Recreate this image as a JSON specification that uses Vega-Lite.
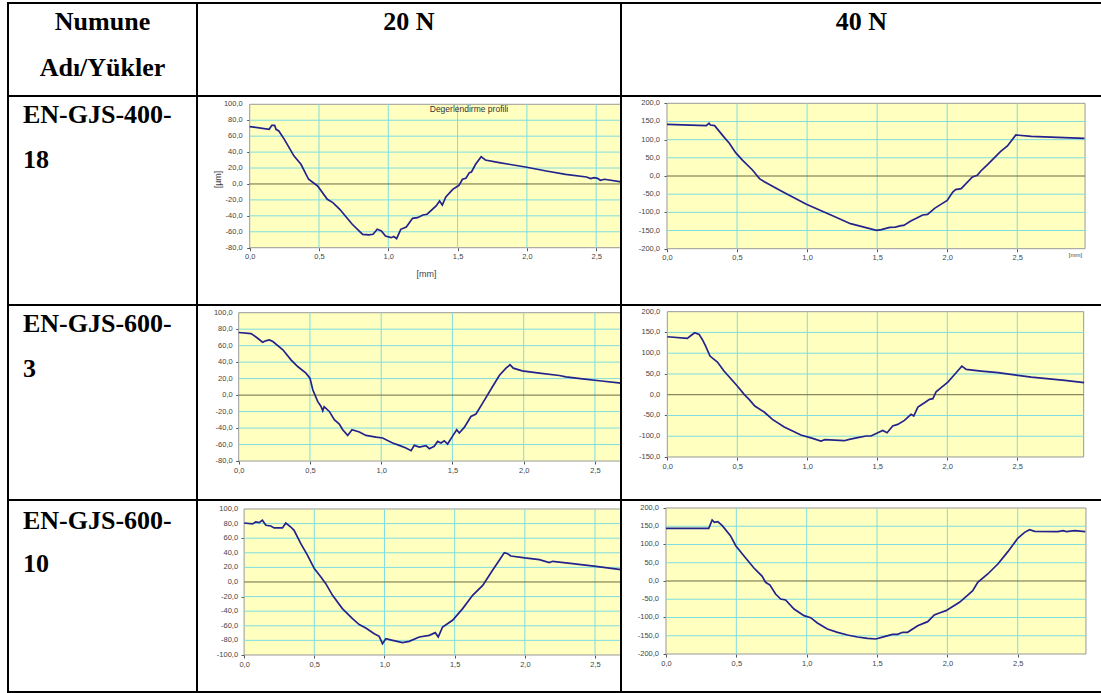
{
  "$schema": "https://vega.github.io/schema/vega-lite/v6.json",
  "padding": {"left": 7, "top": 2, "right": 0, "bottom": 0},
  "background": "white",
  "columns": 3,
  "spacing": 0,
  "bounds": "flush",
  "resolve": {"scale": {"x": "independent", "y": "independent"}, "axis": {"x": "independent", "y": "independent"}},
  "datasets": {
    "xg": [{"v":0.5},{"v":1},{"v":1.5},{"v":2},{"v":2.5}],
    "ygA": [{"v":-60},{"v":-40},{"v":-20},{"v":20},{"v":40},{"v":60},{"v":80}],
    "ygB": [{"v":-150},{"v":-100},{"v":-50},{"v":50},{"v":100},{"v":150}],
    "ygC": [{"v":-100},{"v":-50},{"v":50},{"v":100},{"v":150}],
    "ygD": [{"v":-80},{"v":-60},{"v":-40},{"v":-20},{"v":20},{"v":40},{"v":60},{"v":80}],
    "ylA": [{"v":-80},{"v":-60},{"v":-40},{"v":-20},{"v":0},{"v":20},{"v":40},{"v":60},{"v":80},{"v":100}],
    "ylB": [{"v":-200},{"v":-150},{"v":-100},{"v":-50},{"v":0},{"v":50},{"v":100},{"v":150},{"v":200}],
    "ylC": [{"v":-150},{"v":-100},{"v":-50},{"v":0},{"v":50},{"v":100},{"v":150},{"v":200}],
    "ylD": [{"v":-100},{"v":-80},{"v":-60},{"v":-40},{"v":-20},{"v":0},{"v":20},{"v":40},{"v":60},{"v":80},{"v":100}],
    "c1": [{"x":0,"y":72},{"x":0.14,"y":68.6},{"x":0.16,"y":73.6},{"x":0.18,"y":73.6},{"x":0.19,"y":68.6},{"x":0.21,"y":66.5},{"x":0.25,"y":56},{"x":0.32,"y":35},{"x":0.37,"y":24.7},{"x":0.425,"y":5.9},{"x":0.49,"y":-2.5},{"x":0.56,"y":-19.2},{"x":0.6,"y":-23.4},{"x":0.65,"y":-31.8},{"x":0.69,"y":-40.2},{"x":0.74,"y":-50.6},{"x":0.815,"y":-63.2},{"x":0.86,"y":-64},{"x":0.89,"y":-63.2},{"x":0.92,"y":-56.9},{"x":0.95,"y":-59},{"x":0.98,"y":-65.3},{"x":1.02,"y":-67.4},{"x":1.04,"y":-66},{"x":1.06,"y":-68.6},{"x":1.09,"y":-56.9},{"x":1.13,"y":-54},{"x":1.175,"y":-43.1},{"x":1.21,"y":-42.3},{"x":1.25,"y":-38.9},{"x":1.28,"y":-38},{"x":1.345,"y":-27.6},{"x":1.37,"y":-21.3},{"x":1.39,"y":-26.4},{"x":1.415,"y":-16.3},{"x":1.465,"y":-6.7},{"x":1.51,"y":-1.7},{"x":1.535,"y":5.9},{"x":1.56,"y":7.1},{"x":1.585,"y":14.2},{"x":1.6,"y":15.1},{"x":1.63,"y":24.7},{"x":1.67,"y":34.3},{"x":1.7,"y":30.1},{"x":1.8,"y":26.8},{"x":1.87,"y":24.7},{"x":1.99,"y":21.3},{"x":2.14,"y":16.3},{"x":2.28,"y":12.1},{"x":2.43,"y":8.8},{"x":2.46,"y":6.7},{"x":2.485,"y":7.9},{"x":2.51,"y":7.1},{"x":2.53,"y":4.6},{"x":2.56,"y":5.9},{"x":2.68,"y":2.5}],
    "c2": [{"x":0,"y":142},{"x":0.28,"y":138.5},{"x":0.3,"y":145},{"x":0.31,"y":140.4},{"x":0.34,"y":138.5},{"x":0.41,"y":105.5},{"x":0.445,"y":90},{"x":0.49,"y":64.2},{"x":0.54,"y":43.1},{"x":0.61,"y":16.5},{"x":0.66,"y":-7.3},{"x":0.695,"y":-15.6},{"x":0.815,"y":-41.3},{"x":0.995,"y":-78},{"x":1.17,"y":-107.3},{"x":1.31,"y":-131.2},{"x":1.495,"y":-149.5},{"x":1.53,"y":-147.7},{"x":1.59,"y":-141.3},{"x":1.63,"y":-140.4},{"x":1.67,"y":-136.7},{"x":1.69,"y":-135.8},{"x":1.74,"y":-123.9},{"x":1.78,"y":-116.5},{"x":1.825,"y":-107.3},{"x":1.86,"y":-105.5},{"x":1.91,"y":-89},{"x":1.955,"y":-78},{"x":2.0,"y":-67},{"x":2.04,"y":-44},{"x":2.06,"y":-37.6},{"x":2.1,"y":-34.9},{"x":2.18,"y":-2.8},{"x":2.215,"y":1.8},{"x":2.24,"y":13.8},{"x":2.29,"y":32.1},{"x":2.38,"y":67},{"x":2.43,"y":82.6},{"x":2.49,"y":112.8},{"x":2.6,"y":109.2},{"x":2.835,"y":105.5},{"x":2.98,"y":103.7}],
    "c3": [{"x":0,"y":76},{"x":0.087,"y":74.7},{"x":0.133,"y":69},{"x":0.168,"y":64.2},{"x":0.19,"y":65.9},{"x":0.215,"y":67},{"x":0.24,"y":65},{"x":0.31,"y":55},{"x":0.367,"y":42.8},{"x":0.414,"y":34.7},{"x":0.472,"y":26.7},{"x":0.5,"y":20.6},{"x":0.52,"y":6.5},{"x":0.554,"y":-7.7},{"x":0.578,"y":-13.7},{"x":0.59,"y":-19},{"x":0.6,"y":-14.1},{"x":0.636,"y":-19.8},{"x":0.671,"y":-29.9},{"x":0.706,"y":-35.2},{"x":0.73,"y":-42},{"x":0.765,"y":-48.9},{"x":0.795,"y":-42},{"x":0.847,"y":-44.8},{"x":0.893,"y":-48.9},{"x":0.964,"y":-50.9},{"x":1.01,"y":-52},{"x":1.08,"y":-58.2},{"x":1.127,"y":-61},{"x":1.174,"y":-64.2},{"x":1.21,"y":-67.5},{"x":1.232,"y":-61},{"x":1.268,"y":-63},{"x":1.314,"y":-61.4},{"x":1.338,"y":-65},{"x":1.372,"y":-62.2},{"x":1.396,"y":-56.2},{"x":1.42,"y":-58.2},{"x":1.443,"y":-55.4},{"x":1.466,"y":-59.4},{"x":1.5,"y":-50.1},{"x":1.53,"y":-42},{"x":1.548,"y":-46},{"x":1.583,"y":-39.2},{"x":1.63,"y":-25.9},{"x":1.665,"y":-23},{"x":1.712,"y":-9.7},{"x":1.782,"y":10.5},{"x":1.829,"y":23.8},{"x":1.876,"y":32.7},{"x":1.904,"y":36.8},{"x":1.927,"y":32.7},{"x":1.99,"y":29.5},{"x":2.11,"y":26.7},{"x":2.25,"y":23.8},{"x":2.296,"y":22.2},{"x":2.413,"y":19.8},{"x":2.53,"y":17.4},{"x":2.683,"y":14.5}],
    "c4": [{"x":0,"y":139.6},{"x":0.143,"y":135.6},{"x":0.167,"y":142},{"x":0.196,"y":149.3},{"x":0.227,"y":145.3},{"x":0.25,"y":133.2},{"x":0.274,"y":117.2},{"x":0.305,"y":93.1},{"x":0.358,"y":78.7},{"x":0.405,"y":57},{"x":0.5,"y":20.9},{"x":0.549,"y":0.8},{"x":0.584,"y":-11.2},{"x":0.625,"y":-27.3},{"x":0.692,"y":-41.7},{"x":0.751,"y":-59.4},{"x":0.835,"y":-77.8},{"x":0.906,"y":-89.1},{"x":0.954,"y":-97.1},{"x":1.038,"y":-105.1},{"x":1.097,"y":-111.6},{"x":1.126,"y":-108.3},{"x":1.264,"y":-110.8},{"x":1.3,"y":-107.5},{"x":1.36,"y":-103.5},{"x":1.42,"y":-99.5},{"x":1.455,"y":-99.5},{"x":1.515,"y":-89.9},{"x":1.539,"y":-85.9},{"x":1.57,"y":-91.5},{"x":1.61,"y":-75.4},{"x":1.646,"y":-71.4},{"x":1.694,"y":-61.8},{"x":1.741,"y":-47.4},{"x":1.76,"y":-51.4},{"x":1.79,"y":-29.7},{"x":1.837,"y":-19.3},{"x":1.873,"y":-11.2},{"x":1.897,"y":-9.6},{"x":1.92,"y":7.2},{"x":1.956,"y":16.9},{"x":2.004,"y":30.5},{"x":2.063,"y":53},{"x":2.104,"y":69},{"x":2.135,"y":61},{"x":2.242,"y":57},{"x":2.362,"y":53},{"x":2.6,"y":42.5},{"x":2.839,"y":34.5},{"x":2.977,"y":28.9}],
    "c5": [{"x":0,"y":80.8},{"x":0.06,"y":79.5},{"x":0.083,"y":82.2},{"x":0.107,"y":81.3},{"x":0.13,"y":84.5},{"x":0.155,"y":77.6},{"x":0.19,"y":76.7},{"x":0.214,"y":74},{"x":0.273,"y":74},{"x":0.297,"y":80.8},{"x":0.333,"y":75.3},{"x":0.356,"y":70.8},{"x":0.404,"y":52.5},{"x":0.452,"y":36.5},{"x":0.5,"y":18.3},{"x":0.547,"y":6.8},{"x":0.582,"y":-2.3},{"x":0.63,"y":-18.3},{"x":0.7,"y":-36.5},{"x":0.772,"y":-50.2},{"x":0.82,"y":-58.4},{"x":0.867,"y":-63},{"x":0.927,"y":-70.8},{"x":0.962,"y":-74.4},{"x":0.986,"y":-84.5},{"x":1.01,"y":-77.6},{"x":1.058,"y":-79.9},{"x":1.129,"y":-83.1},{"x":1.176,"y":-81.3},{"x":1.248,"y":-75.3},{"x":1.319,"y":-73.1},{"x":1.362,"y":-69.4},{"x":1.383,"y":-75.3},{"x":1.414,"y":-61.6},{"x":1.485,"y":-52.5},{"x":1.557,"y":-36.5},{"x":1.628,"y":-18.3},{"x":1.7,"y":-4.6},{"x":1.77,"y":16},{"x":1.818,"y":29.7},{"x":1.854,"y":40.2},{"x":1.877,"y":38.8},{"x":1.9,"y":35.6},{"x":2.0,"y":32.9},{"x":2.103,"y":30.6},{"x":2.174,"y":26.5},{"x":2.198,"y":28.3},{"x":2.34,"y":25.1},{"x":2.507,"y":21.5},{"x":2.685,"y":16.9}],
    "c6": [{"x":0,"y":144.3},{"x":0.304,"y":144.3},{"x":0.328,"y":167.1},{"x":0.344,"y":160.7},{"x":0.368,"y":162.6},{"x":0.4,"y":151.6},{"x":0.458,"y":124.2},{"x":0.496,"y":96.8},{"x":0.553,"y":69.4},{"x":0.625,"y":35.6},{"x":0.684,"y":12.8},{"x":0.708,"y":-3.7},{"x":0.739,"y":-11},{"x":0.779,"y":-35.6},{"x":0.815,"y":-49.3},{"x":0.85,"y":-52.1},{"x":0.91,"y":-76.7},{"x":0.981,"y":-95},{"x":1.028,"y":-100.5},{"x":1.076,"y":-115.1},{"x":1.147,"y":-131.5},{"x":1.219,"y":-140.6},{"x":1.29,"y":-147.9},{"x":1.361,"y":-153.4},{"x":1.432,"y":-157.1},{"x":1.492,"y":-158.9},{"x":1.551,"y":-152.5},{"x":1.61,"y":-146.1},{"x":1.646,"y":-146.1},{"x":1.682,"y":-140.6},{"x":1.717,"y":-140.6},{"x":1.789,"y":-122.4},{"x":1.86,"y":-111.4},{"x":1.907,"y":-93.2},{"x":1.943,"y":-87.7},{"x":1.99,"y":-81.3},{"x":2.086,"y":-58.4},{"x":2.145,"y":-38.4},{"x":2.18,"y":-26.5},{"x":2.216,"y":-3.7},{"x":2.287,"y":19.2},{"x":2.359,"y":46.6},{"x":2.43,"y":80.4},{"x":2.5,"y":116.9},{"x":2.549,"y":133.3},{"x":2.584,"y":140.6},{"x":2.62,"y":136.1},{"x":2.786,"y":135.2},{"x":2.822,"y":137.9},{"x":2.846,"y":135.2},{"x":2.905,"y":137.9},{"x":2.98,"y":135.2}]
  },
  "concat": [
    {"width": 189, "height": 93, "data": {"values": [{"ln":"1","t":"Numune"},{"ln":"2","t":"Adı/Yükler"}]},
     "mark": {"type":"text","font":"Liberation Serif","fontWeight":"bold","fontSize":26,"baseline":"alphabetic","align":"center","color":"#000"},
     "encoding": {"text":{"field":"t"},"y":{"field":"ln","type":"ordinal","scale":{"type":"point","domain":["1","2"],"range":[27,73],"padding":0},"axis":null},"x":{"datum":"c","type":"nominal","scale":{"type":"point","padding":0.5},"axis":null}}},
    {"width": 424, "height": 93, "data": {"values": [{"ln":"1","t":"20 N"}]},
     "mark": {"type":"text","font":"Liberation Serif","fontWeight":"bold","fontSize":26,"baseline":"alphabetic","align":"center","color":"#000"},
     "encoding": {"text":{"field":"t"},"y":{"field":"ln","type":"ordinal","scale":{"type":"point","domain":["1","2"],"range":[27,73],"padding":0},"axis":null},"x":{"datum":"c","type":"nominal","scale":{"type":"point","padding":0.5},"axis":null}}},
    {"width": 481, "height": 93, "data": {"values": [{"ln":"1","t":"40 N"}]},
     "mark": {"type":"text","font":"Liberation Serif","fontWeight":"bold","fontSize":26,"baseline":"alphabetic","align":"center","color":"#000"},
     "encoding": {"text":{"field":"t"},"y":{"field":"ln","type":"ordinal","scale":{"type":"point","domain":["1","2"],"range":[27,73],"padding":0},"axis":null},"x":{"datum":"c","type":"nominal","scale":{"type":"point","padding":0.5},"axis":null}}},

    {"width": 189, "height": 209, "data": {"values": [{"ln":"1","t":"EN-GJS-400-"},{"ln":"2","t":"18"}]},
     "mark": {"type":"text","font":"Liberation Serif","fontWeight":"bold","fontSize":26,"baseline":"alphabetic","align":"left","color":"#000"},
     "encoding": {"text":{"field":"t"},"y":{"field":"ln","type":"ordinal","scale":{"type":"point","domain":["1","2"],"range":[27,72],"padding":0},"axis":null},"x":{"datum":"c","type":"nominal","scale":{"type":"point","range":[15,15]},"axis":null}}},
    {"width": 424, "height": 209,
     "layer": [
       {"data":{"values":[{}]},"mark":{"type":"rect","fill":"#FFFFC0","stroke":"#999999","strokeWidth":1,"clip":true},
        "encoding":{"x":{"datum":0,"type":"quantitative","scale":{"domain":[-0.3802,2.679],"nice":false,"zero":false}},"x2":{"datum":3},"y":{"datum":-80,"type":"quantitative","scale":{"domain":[-151.9,110.4],"nice":false,"zero":false}},"y2":{"datum":100}}},
       {"data":{"name":"xg"},"mark":{"type":"rule","color":"#7FDDE0","strokeWidth":1,"clip":true},
        "encoding":{"x":{"field":"v","type":"quantitative"},"y":{"datum":-80,"type":"quantitative"},"y2":{"datum":100}}},
       {"data":{"name":"ygA"},"mark":{"type":"rule","color":"#7FDDE0","strokeWidth":1,"clip":true},
        "encoding":{"y":{"field":"v","type":"quantitative"},"x":{"datum":0,"type":"quantitative"},"x2":{"datum":3}}},
       {"data":{"values":[{}]},"mark":{"type":"rule","color":"#6b6b45","strokeWidth":1,"clip":true},
        "encoding":{"y":{"datum":0,"type":"quantitative"},"x":{"datum":0,"type":"quantitative"},"x2":{"datum":3}}},
       {"data":{"values":[{}]},"mark":{"type":"text","text":"Degerlendirme profili","font":"Liberation Sans","fontSize":8.5,"color":"#333333","baseline":"middle","align":"center"},
        "encoding":{"x":{"datum":1.582,"type":"quantitative"},"y":{"datum":94,"type":"quantitative"}}},
       {"data":{"name":"ylA"},"mark":{"type":"text","font":"Liberation Sans","fontSize":7.5,"color":"#444444","align":"right","baseline":"middle","dx":-7},
        "encoding":{"x":{"datum":0,"type":"quantitative"},"y":{"field":"v","type":"quantitative"},"text":{"field":"v","type":"quantitative","format":".1f"}}},
       {"data":{"name":"c1"},"mark":{"type":"line","color":"#23238e","strokeWidth":1.7,"clip":true},
        "encoding":{
          "x":{"field":"x","type":"quantitative","scale":{"domain":[-0.3802,2.679],"nice":false,"zero":false},
               "axis":{"values":[0,0.5,1,1.5,2,2.5],"format":".1f","offset":-57.3,"labelPadding":2,"labelOverlap":false,"labelFlush":false,"title":"[mm]","titleX":229,"titleY":26,"titleFontSize":9,"titleBaseline":"middle","titleAlign":"center"}},
          "y":{"field":"y","type":"quantitative","scale":{"domain":[-151.9,110.4],"nice":false,"zero":false},
               "axis":{"values":[-80,-60,-40,-20,0,20,40,60,80,100],"labels":false,"offset":-52.7,"title":"[µm]","titleX":-32,"titleY":83,"titleAngle":-90,"titleFontSize":9,"titleBaseline":"middle","titleAlign":"center"}}}}
     ]},
    {"width": 481, "height": 209,
     "layer": [
       {"data":{"values":[{}]},"mark":{"type":"rect","fill":"#FFFFC0","stroke":"#999999","strokeWidth":1,"clip":true},
        "encoding":{"x":{"datum":0,"type":"quantitative","scale":{"domain":[-0.3283,3.105],"nice":false,"zero":false}},"x2":{"datum":2.984},"y":{"datum":-200,"type":"quantitative","scale":{"domain":[-354.9,220.1],"nice":false,"zero":false}},"y2":{"datum":200}}},
       {"data":{"name":"xg"},"mark":{"type":"rule","color":"#7FDDE0","strokeWidth":1,"clip":true},
        "encoding":{"x":{"field":"v","type":"quantitative"},"y":{"datum":-200,"type":"quantitative"},"y2":{"datum":200}}},
       {"data":{"name":"ygB"},"mark":{"type":"rule","color":"#7FDDE0","strokeWidth":1,"clip":true},
        "encoding":{"y":{"field":"v","type":"quantitative"},"x":{"datum":0,"type":"quantitative"},"x2":{"datum":2.984}}},
       {"data":{"values":[{}]},"mark":{"type":"rule","color":"#6b6b45","strokeWidth":1,"clip":true},
        "encoding":{"y":{"datum":0,"type":"quantitative"},"x":{"datum":0,"type":"quantitative"},"x2":{"datum":2.984}}},
       {"data":{"name":"ylB"},"mark":{"type":"text","font":"Liberation Sans","fontSize":7.5,"color":"#444444","align":"right","baseline":"middle","dx":-7},
        "encoding":{"x":{"datum":0,"type":"quantitative"},"y":{"field":"v","type":"quantitative"},"text":{"field":"v","type":"quantitative","format":".1f"}}},
       {"data":{"name":"c2"},"mark":{"type":"line","color":"#23238e","strokeWidth":1.7,"clip":true},
        "encoding":{
          "x":{"field":"x","type":"quantitative","scale":{"domain":[-0.3283,3.105],"nice":false,"zero":false},
               "axis":{"values":[0,0.5,1,1.5,2,2.5],"format":".1f","offset":-56.3,"labelPadding":2,"labelOverlap":false,"labelFlush":false,"title":"[mm]","titleX":454,"titleY":5.5,"titleFontSize":6,"titleBaseline":"middle","titleAlign":"center"}},
          "y":{"field":"y","type":"quantitative","scale":{"domain":[-354.9,220.1],"nice":false,"zero":false},
               "axis":{"values":[-200,-150,-100,-50,0,50,100,150,200],"labels":false,"offset":-46,"title":null}}}}
     ]},

    {"width": 189, "height": 195, "data": {"values": [{"ln":"1","t":"EN-GJS-600-"},{"ln":"2","t":"3"}]},
     "mark": {"type":"text","font":"Liberation Serif","fontWeight":"bold","fontSize":26,"baseline":"alphabetic","align":"left","color":"#000"},
     "encoding": {"text":{"field":"t"},"y":{"field":"ln","type":"ordinal","scale":{"type":"point","domain":["1","2"],"range":[27,72],"padding":0},"axis":null},"x":{"datum":"c","type":"nominal","scale":{"type":"point","range":[15,15]},"axis":null}}},
    {"width": 424, "height": 195,
     "layer": [
       {"data":{"values":[{}]},"mark":{"type":"rect","fill":"#FFFFC0","stroke":"#999999","strokeWidth":1,"clip":true},
        "encoding":{"x":{"datum":0,"type":"quantitative","scale":{"domain":[-0.2926,2.683],"nice":false,"zero":false}},"x2":{"datum":3},"y":{"datum":-80,"type":"quantitative","scale":{"domain":[-127.3,109.35],"nice":false,"zero":false}},"y2":{"datum":100}}},
       {"data":{"name":"xg"},"mark":{"type":"rule","color":"#7FDDE0","strokeWidth":1,"clip":true},
        "encoding":{"x":{"field":"v","type":"quantitative"},"y":{"datum":-80,"type":"quantitative"},"y2":{"datum":100}}},
       {"data":{"name":"ygA"},"mark":{"type":"rule","color":"#7FDDE0","strokeWidth":1,"clip":true},
        "encoding":{"y":{"field":"v","type":"quantitative"},"x":{"datum":0,"type":"quantitative"},"x2":{"datum":3}}},
       {"data":{"values":[{}]},"mark":{"type":"rule","color":"#6b6b45","strokeWidth":1,"clip":true},
        "encoding":{"y":{"datum":0,"type":"quantitative"},"x":{"datum":0,"type":"quantitative"},"x2":{"datum":3}}},
       {"data":{"name":"ylA"},"mark":{"type":"text","font":"Liberation Sans","fontSize":7.5,"color":"#444444","align":"right","baseline":"middle","dx":-6},
        "encoding":{"x":{"datum":0,"type":"quantitative"},"y":{"field":"v","type":"quantitative"},"text":{"field":"v","type":"quantitative","format":".1f"}}},
       {"data":{"name":"c3"},"mark":{"type":"line","color":"#23238e","strokeWidth":1.7,"clip":true},
        "encoding":{
          "x":{"field":"x","type":"quantitative","scale":{"domain":[-0.2926,2.683],"nice":false,"zero":false},
               "axis":{"values":[0,0.5,1,1.5,2,2.5],"format":".1f","offset":-39,"labelPadding":2,"labelOverlap":false,"labelFlush":false,"title":null}},
          "y":{"field":"y","type":"quantitative","scale":{"domain":[-127.3,109.35],"nice":false,"zero":false},
               "axis":{"values":[-80,-60,-40,-20,0,20,40,60,80,100],"labels":false,"offset":-41.7,"title":null}}}}
     ]},
    {"width": 481, "height": 195,
     "layer": [
       {"data":{"values":[{}]},"mark":{"type":"rect","fill":"#FFFFC0","stroke":"#999999","strokeWidth":1,"clip":true},
        "encoding":{"x":{"datum":0,"type":"quantitative","scale":{"domain":[-0.3307,3.105],"nice":false,"zero":false}},"x2":{"datum":2.974},"y":{"datum":-150,"type":"quantitative","scale":{"domain":[-253.6,216.1],"nice":false,"zero":false}},"y2":{"datum":200}}},
       {"data":{"name":"xg"},"mark":{"type":"rule","color":"#7FDDE0","strokeWidth":1,"clip":true},
        "encoding":{"x":{"field":"v","type":"quantitative"},"y":{"datum":-150,"type":"quantitative"},"y2":{"datum":200}}},
       {"data":{"name":"ygC"},"mark":{"type":"rule","color":"#7FDDE0","strokeWidth":1,"clip":true},
        "encoding":{"y":{"field":"v","type":"quantitative"},"x":{"datum":0,"type":"quantitative"},"x2":{"datum":2.974}}},
       {"data":{"values":[{}]},"mark":{"type":"rule","color":"#6b6b45","strokeWidth":1,"clip":true},
        "encoding":{"y":{"datum":0,"type":"quantitative"},"x":{"datum":0,"type":"quantitative"},"x2":{"datum":2.974}}},
       {"data":{"name":"ylC"},"mark":{"type":"text","font":"Liberation Sans","fontSize":7.5,"color":"#444444","align":"right","baseline":"middle","dx":-7},
        "encoding":{"x":{"datum":0,"type":"quantitative"},"y":{"field":"v","type":"quantitative"},"text":{"field":"v","type":"quantitative","format":".1f"}}},
       {"data":{"name":"c4"},"mark":{"type":"line","color":"#23238e","strokeWidth":1.7,"clip":true},
        "encoding":{
          "x":{"field":"x","type":"quantitative","scale":{"domain":[-0.3307,3.105],"nice":false,"zero":false},
               "axis":{"values":[0,0.5,1,1.5,2,2.5],"format":".1f","offset":-43,"labelPadding":2,"labelOverlap":false,"labelFlush":false,"title":null}},
          "y":{"field":"y","type":"quantitative","scale":{"domain":[-253.6,216.1],"nice":false,"zero":false},
               "axis":{"values":[-150,-100,-50,0,50,100,150,200],"labels":false,"offset":-46.3,"title":null}}}}
     ]},

    {"width": 189, "height": 192, "data": {"values": [{"ln":"1","t":"EN-GJS-600-"},{"ln":"2","t":"10"}]},
     "mark": {"type":"text","font":"Liberation Serif","fontWeight":"bold","fontSize":26,"baseline":"alphabetic","align":"left","color":"#000"},
     "encoding": {"text":{"field":"t"},"y":{"field":"ln","type":"ordinal","scale":{"type":"point","domain":["1","2"],"range":[29,72],"padding":0},"axis":null},"x":{"datum":"c","type":"nominal","scale":{"type":"point","range":[15,15]},"axis":null}}},
    {"width": 424, "height": 192,
     "layer": [
       {"data":{"values":[{}]},"mark":{"type":"rect","fill":"#FFFFC0","stroke":"#999999","strokeWidth":1,"clip":true},
        "encoding":{"x":{"datum":0,"type":"quantitative","scale":{"domain":[-0.3356,2.685],"nice":false,"zero":false}},"x2":{"datum":3},"y":{"datum":-100,"type":"quantitative","scale":{"domain":[-150.7,112.3],"nice":false,"zero":false}},"y2":{"datum":100}}},
       {"data":{"name":"xg"},"mark":{"type":"rule","color":"#7FDDE0","strokeWidth":1,"clip":true},
        "encoding":{"x":{"field":"v","type":"quantitative"},"y":{"datum":-100,"type":"quantitative"},"y2":{"datum":100}}},
       {"data":{"name":"ygD"},"mark":{"type":"rule","color":"#7FDDE0","strokeWidth":1,"clip":true},
        "encoding":{"y":{"field":"v","type":"quantitative"},"x":{"datum":0,"type":"quantitative"},"x2":{"datum":3}}},
       {"data":{"values":[{}]},"mark":{"type":"rule","color":"#6b6b45","strokeWidth":1,"clip":true},
        "encoding":{"y":{"datum":0,"type":"quantitative"},"x":{"datum":0,"type":"quantitative"},"x2":{"datum":3}}},
       {"data":{"name":"ylD"},"mark":{"type":"text","font":"Liberation Sans","fontSize":7.5,"color":"#444444","align":"right","baseline":"middle","dx":-6},
        "encoding":{"x":{"datum":0,"type":"quantitative"},"y":{"field":"v","type":"quantitative"},"text":{"field":"v","type":"quantitative","format":".1f"}}},
       {"data":{"name":"c5"},"mark":{"type":"line","color":"#23238e","strokeWidth":1.7,"clip":true},
        "encoding":{
          "x":{"field":"x","type":"quantitative","scale":{"domain":[-0.3356,2.685],"nice":false,"zero":false},
               "axis":{"values":[0,0.5,1,1.5,2,2.5],"format":".1f","offset":-37,"labelPadding":2,"labelOverlap":false,"labelFlush":false,"title":null}},
          "y":{"field":"y","type":"quantitative","scale":{"domain":[-150.7,112.3],"nice":false,"zero":false},
               "axis":{"values":[-100,-80,-60,-40,-20,0,20,40,60,80,100],"labels":false,"offset":-47.1,"title":null}}}}
     ]},
    {"width": 481, "height": 192,
     "layer": [
       {"data":{"values":[{}]},"mark":{"type":"rect","fill":"#FFFFC0","stroke":"#999999","strokeWidth":1,"clip":true},
        "encoding":{"x":{"datum":0,"type":"quantitative","scale":{"domain":[-0.3198,3.099],"nice":false,"zero":false}},"x2":{"datum":2.985},"y":{"datum":-200,"type":"quantitative","scale":{"domain":[-304.1,221.9],"nice":false,"zero":false}},"y2":{"datum":200}}},
       {"data":{"name":"xg"},"mark":{"type":"rule","color":"#7FDDE0","strokeWidth":1,"clip":true},
        "encoding":{"x":{"field":"v","type":"quantitative"},"y":{"datum":-200,"type":"quantitative"},"y2":{"datum":200}}},
       {"data":{"name":"ygB"},"mark":{"type":"rule","color":"#7FDDE0","strokeWidth":1,"clip":true},
        "encoding":{"y":{"field":"v","type":"quantitative"},"x":{"datum":0,"type":"quantitative"},"x2":{"datum":2.985}}},
       {"data":{"values":[{}]},"mark":{"type":"rule","color":"#6b6b45","strokeWidth":1,"clip":true},
        "encoding":{"y":{"datum":0,"type":"quantitative"},"x":{"datum":0,"type":"quantitative"},"x2":{"datum":2.985}}},
       {"data":{"name":"ylB"},"mark":{"type":"text","font":"Liberation Sans","fontSize":7.5,"color":"#444444","align":"right","baseline":"middle","dx":-7},
        "encoding":{"x":{"datum":0,"type":"quantitative"},"y":{"field":"v","type":"quantitative"},"text":{"field":"v","type":"quantitative","format":".1f"}}},
       {"data":{"name":"c6"},"mark":{"type":"line","color":"#23238e","strokeWidth":1.7,"clip":true},
        "encoding":{
          "x":{"field":"x","type":"quantitative","scale":{"domain":[-0.3198,3.099],"nice":false,"zero":false},
               "axis":{"values":[0,0.5,1,1.5,2,2.5],"format":".1f","offset":-38,"labelPadding":2,"labelOverlap":false,"labelFlush":false,"title":null}},
          "y":{"field":"y","type":"quantitative","scale":{"domain":[-304.1,221.9],"nice":false,"zero":false},
               "axis":{"values":[-200,-150,-100,-50,0,50,100,150,200],"labels":false,"offset":-45,"title":null}}}}
     ]}
  ],
  "config": {
    "view": {"stroke": "#000000", "strokeWidth": 2},
    "locale": {"number": {"decimal": ",", "thousands": ".", "grouping": [3], "currency": ["", ""], "minus": "-"}},
    "axis": {"labelFont": "Liberation Sans", "labelFontSize": 7.5, "labelColor": "#444444", "domain": false, "grid": false, "tickSize": 3, "tickColor": "#555555", "labelOverlap": false, "labelFlush": false, "titleFont": "Liberation Sans", "titleFontWeight": "normal", "titleColor": "#444444"}
  }
}
